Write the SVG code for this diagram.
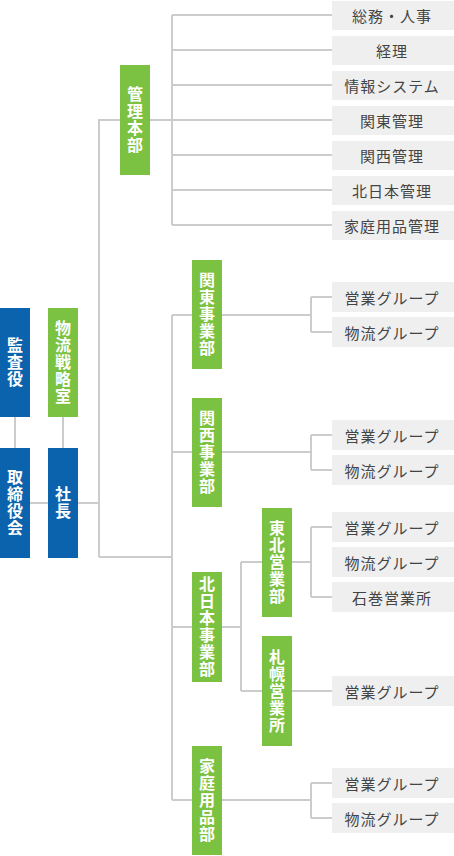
<svg xmlns="http://www.w3.org/2000/svg" width="454" height="856" viewBox="0 0 454 856">
<style>
.blue{fill:#0b63ae}
.green{fill:#7cc242}
.vt{font-family:"Noto Sans CJK JP","Noto Sans",sans-serif;font-size:16px;font-weight:bold;fill:#fff;writing-mode:vertical-rl;text-anchor:middle;letter-spacing:1px}
.box{fill:#efefef}
.lt{font-family:"Noto Sans CJK JP","Noto Sans",sans-serif;font-size:15px;fill:#444;text-anchor:middle;dominant-baseline:central;letter-spacing:1px}
.conn{fill:none;stroke:#cccccc;stroke-width:2}
</style>
<g id="connectors" class="conn">
<path d="M15 417V448M63 417V448M30 503H48M78 503H99"/>
<path d="M99 557V120H120M150 120H172M99 557H172"/>
<path d="M172 15V225M172 15H332M172 50H332M172 85H332M172 120H332M172 155H332M172 190H332M172 225H332"/>
<path d="M172 315V800M172 315H192M172 452H192M172 627H192M172 800H192"/>
<path d="M222 315H311M311 297V332M311 297H332M311 332H332"/>
<path d="M222 452H311M311 435V470M311 435H332M311 470H332"/>
<path d="M222 627H241M241 562V691M241 562H262M241 691H262"/>
<path d="M292 562H311M311 527V597M311 527H332M311 597H332"/>
<path d="M292 691H332"/>
<path d="M222 800H311M311 783V818M311 783H332M311 818H332"/>
</g>
<g id="kansayaku"><rect class="blue" x="0" y="308" width="30" height="109"/><text class="vt" x="15" y="362.5">監査役</text></g>
<g id="torishimariyakukai"><rect class="blue" x="0" y="448" width="30" height="110"/><text class="vt" x="15" y="503">取締役会</text></g>
<g id="butsuryusenryakushitsu"><rect class="green" x="48" y="308" width="30" height="109"/><text class="vt" x="63" y="362.5">物流戦略室</text></g>
<g id="shacho"><rect class="blue" x="48" y="448" width="30" height="110"/><text class="vt" x="63" y="503">社長</text></g>
<g id="kanrihonbu"><rect class="green" x="120" y="65" width="30" height="110"/><text class="vt" x="135" y="120">管理本部</text></g>
<g id="kanto"><rect class="green" x="192" y="260" width="30" height="109"/><text class="vt" x="207" y="314.5">関東事業部</text></g>
<g id="kansai"><rect class="green" x="192" y="398" width="30" height="109"/><text class="vt" x="207" y="452.5">関西事業部</text></g>
<g id="kitanihon"><rect class="green" x="192" y="572" width="30" height="110"/><text class="vt" x="207" y="627">北日本事業部</text></g>
<g id="tohoku"><rect class="green" x="262" y="508" width="30" height="109"/><text class="vt" x="277" y="562.5">東北営業部</text></g>
<g id="sapporo"><rect class="green" x="262" y="636" width="30" height="110"/><text class="vt" x="277" y="691">札幌営業所</text></g>
<g id="katei"><rect class="green" x="192" y="746" width="30" height="109"/><text class="vt" x="207" y="800.5">家庭用品部</text></g>
<g id="somu"><rect class="box" x="332" y="1" width="122" height="29"/><text class="lt" x="392" y="15.5">総務・人事</text></g>
<g id="keiri"><rect class="box" x="332" y="36" width="122" height="29"/><text class="lt" x="392" y="50.5">経理</text></g>
<g id="joho"><rect class="box" x="332" y="71" width="122" height="29"/><text class="lt" x="392" y="85.5">情報システム</text></g>
<g id="kantokanri"><rect class="box" x="332" y="106" width="122" height="29"/><text class="lt" x="392" y="120.5">関東管理</text></g>
<g id="kansaikanri"><rect class="box" x="332" y="141" width="122" height="29"/><text class="lt" x="392" y="155.5">関西管理</text></g>
<g id="kitanihonkanri"><rect class="box" x="332" y="176" width="122" height="29"/><text class="lt" x="392" y="190.5">北日本管理</text></g>
<g id="kateikanri"><rect class="box" x="332" y="211" width="122" height="29"/><text class="lt" x="392" y="225.5">家庭用品管理</text></g>
<g id="kanto-eigyo"><rect class="box" x="332" y="282" width="122" height="30"/><text class="lt" x="392" y="297">営業グループ</text></g>
<g id="kanto-butsuryu"><rect class="box" x="332" y="317" width="122" height="30"/><text class="lt" x="392" y="332">物流グループ</text></g>
<g id="kansai-eigyo"><rect class="box" x="332" y="420" width="122" height="30"/><text class="lt" x="392" y="435">営業グループ</text></g>
<g id="kansai-butsuryu"><rect class="box" x="332" y="455" width="122" height="30"/><text class="lt" x="392" y="470">物流グループ</text></g>
<g id="tohoku-eigyo"><rect class="box" x="332" y="512" width="122" height="30"/><text class="lt" x="392" y="527">営業グループ</text></g>
<g id="tohoku-butsuryu"><rect class="box" x="332" y="547" width="122" height="30"/><text class="lt" x="392" y="562">物流グループ</text></g>
<g id="ishinomaki"><rect class="box" x="332" y="582" width="122" height="30"/><text class="lt" x="392" y="597">石巻営業所</text></g>
<g id="sapporo-eigyo"><rect class="box" x="332" y="676" width="122" height="30"/><text class="lt" x="392" y="691">営業グループ</text></g>
<g id="katei-eigyo"><rect class="box" x="332" y="768" width="122" height="30"/><text class="lt" x="392" y="783">営業グループ</text></g>
<g id="katei-butsuryu"><rect class="box" x="332" y="803" width="122" height="30"/><text class="lt" x="392" y="818">物流グループ</text></g>
</svg>
